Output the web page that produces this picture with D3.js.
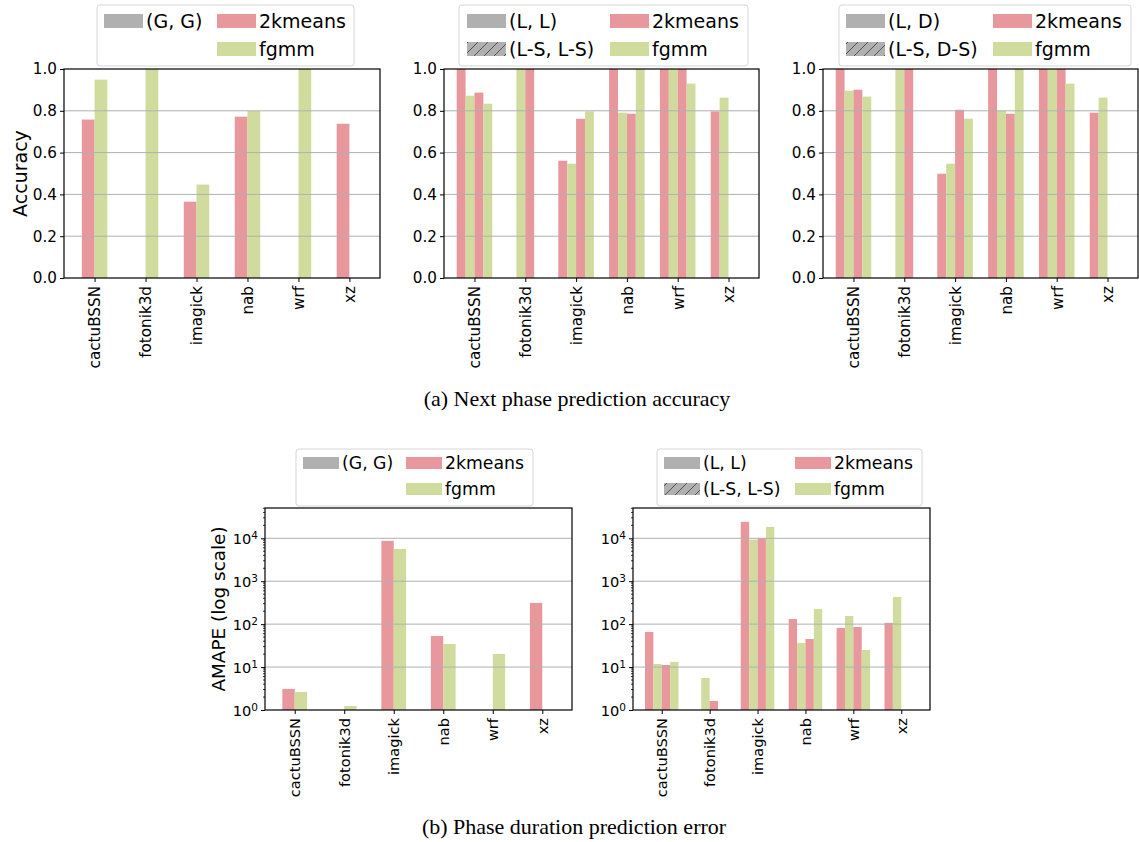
<!DOCTYPE html>
<html>
<head>
<meta charset="utf-8">
<script src="https://cdn.jsdelivr.net/npm/d3@7"></script>
<style>
  body { margin: 0; background: #fff; }
  text { font-family: "DejaVu Sans", sans-serif; fill: #000; }
  .caption { font-family: "Liberation Serif", "DejaVu Serif", serif; }
</style>
</head>
<body>
<svg id="chart" width="1139" height="842"></svg>
<script>
const benchmarks = ["cactuBSSN", "fotonik3d", "imagick", "nab", "wrf", "xz"];

// (a) next phase prediction accuracy
const accGG_2kmeans   = [0.758, 0, 0.365, 0.772, 0, 0.738];
const accGG_fgmm      = [0.949, 1.0, 0.447, 0.799, 1.0, 0];
const accLL_2kmeans   = [1.0, 0, 0.561, 1.0, 1.0, 0.797];
const accLL_fgmm      = [0.872, 1.0, 0.547, 0.791, 1.0, 0.863];
const accLSLS_2kmeans = [0.887, 1.0, 0.762, 0.786, 1.0, 0];
const accLSLS_fgmm    = [0.834, 0, 0.797, 1.0, 0.930, 0];
const accLD_2kmeans   = [1.0, 0, 0.499, 1.0, 1.0, 0.791];
const accLD_fgmm      = [0.896, 1.0, 0.547, 0.799, 1.0, 0.863];
const accLSDS_2kmeans = [0.901, 1.0, 0.805, 0.786, 1.0, 0];
const accLSDS_fgmm    = [0.868, 0, 0.762, 1.0, 0.930, 0];

// (b) phase duration prediction error (AMAPE)
const durGG_2kmeans   = [3.09, 0, 8700, 53, 0, 312];
const durGG_fgmm      = [2.63, 1.24, 5660, 34.5, 20.2, 0];
const durLL_2kmeans   = [65.8, 0, 24100, 132, 81.6, 107];
const durLL_fgmm      = [11.8, 5.57, 9340, 36.5, 155, 430];
const durLSLS_2kmeans = [11.2, 1.62, 10000, 45, 86, 0];
const durLSLS_fgmm    = [13.2, 0, 18400, 226, 25, 0];

const accTicks = [0, 0.2, 0.4, 0.6, 0.8, 1.0];
const logTicks = [1, 10, 100, 1000, 10000];

const PINK = "#e8979d", GREEN = "#d0dc9e", GRAY = "#b0b0b0";

const svg = d3.select("#chart");

const defs = svg.append("defs");
const pat = defs.append("pattern")
  .attr("id", "hatch")
  .attr("patternUnits", "userSpaceOnUse")
  .attr("width", 10).attr("height", 10);
pat.append("rect").attr("width", 10).attr("height", 10).attr("fill", GRAY);
pat.append("path")
  .attr("d", "M-2,12 L12,-2 M-2,2 L2,-2 M8,12 L12,8")
  .attr("stroke", "#555").attr("stroke-width", 1);

const panels = [
  { kind: "acc", left: 64, right: 380, top: 69, bottom: 278, ylabel: "Accuracy",
    series: [accGG_2kmeans, accGG_fgmm], tick: 15.2,
    legend: { x0: 97, x1: 354, y0: 5, y1: 66, c1: 104, c2: 217, pw: 39, ph: 14, r1: 21, r2: 49, fs: 19,
      items: [["(G, G)", GRAY, 1, 1], ["2kmeans", PINK, 2, 1], ["fgmm", GREEN, 2, 2]] } },
  { kind: "acc", left: 444, right: 759, top: 69, bottom: 278,
    series: [accLL_2kmeans, accLL_fgmm, accLSLS_2kmeans, accLSLS_fgmm], tick: 15.2,
    legend: { x0: 459, x1: 748, y0: 5, y1: 66, c1: 467, c2: 610, pw: 39, ph: 14, r1: 21, r2: 49, fs: 19,
      items: [["(L, L)", GRAY, 1, 1], ["(L-S, L-S)", "url(#hatch)", 1, 2], ["2kmeans", PINK, 2, 1], ["fgmm", GREEN, 2, 2]] } },
  { kind: "acc", left: 823, right: 1138, top: 69, bottom: 278,
    series: [accLD_2kmeans, accLD_fgmm, accLSDS_2kmeans, accLSDS_fgmm], tick: 15.2,
    legend: { x0: 839, x1: 1131, y0: 5, y1: 66, c1: 846, c2: 993, pw: 39, ph: 14, r1: 21, r2: 49, fs: 19,
      items: [["(L, D)", GRAY, 1, 1], ["(L-S, D-S)", "url(#hatch)", 1, 2], ["2kmeans", PINK, 2, 1], ["fgmm", GREEN, 2, 2]] } },
  { kind: "log", left: 265, right: 572, top: 508, bottom: 710, ylabel: "AMAPE (log scale)",
    series: [durGG_2kmeans, durGG_fgmm], tick: 14.6,
    legend: { x0: 296, x1: 533, y0: 449, y1: 506, c1: 303, c2: 406, pw: 36, ph: 12, r1: 463, r2: 489, fs: 17.3,
      items: [["(G, G)", GRAY, 1, 1], ["2kmeans", PINK, 2, 1], ["fgmm", GREEN, 2, 2]] } },
  { kind: "log", left: 633, right: 930, top: 508, bottom: 710,
    series: [durLL_2kmeans, durLL_fgmm, durLSLS_2kmeans, durLSLS_fgmm], tick: 14.6,
    legend: { x0: 657, x1: 922, y0: 449, y1: 506, c1: 664, c2: 795, pw: 36, ph: 12, r1: 463, r2: 489, fs: 17.3,
      items: [["(L, L)", GRAY, 1, 1], ["(L-S, L-S)", "url(#hatch)", 1, 2], ["2kmeans", PINK, 2, 1], ["fgmm", GREEN, 2, 2]] } }
];

const seriesColors = [PINK, GREEN, PINK, GREEN];

panels.forEach(p => {
  const g = svg.append("g");
  const x = d3.scaleLinear().domain([-0.6, benchmarks.length - 1 + 0.6]).range([p.left, p.right]);
  const y = p.kind === "acc"
    ? d3.scaleLinear().domain([0, 1]).range([p.bottom, p.top])
    : d3.scaleLog().domain([1, Math.pow(10, 4.705)]).range([p.bottom, p.top]);

  const n = p.series.length;
  const w = n === 2 ? 0.25 : 0.175;

  // bars
  p.series.forEach((vals, si) => {
    const off = (si - (n - 1) / 2) * w;
    g.append("g").selectAll("rect")
      .data(vals.map((v, i) => ({ v, i })).filter(d => d.v > 0))
      .enter().append("rect")
      .attr("x", d => x(d.i + off - w / 2))
      .attr("width", x(w) - x(0))
      .attr("y", d => y(Math.min(d.v, y.domain()[1])))
      .attr("height", d => y(p.kind === "acc" ? 0 : 1) - y(d.v))
      .attr("fill", seriesColors[si]);
  });

  // grid
  const gridVals = p.kind === "acc" ? accTicks.slice(1, -1) : logTicks.slice(1);
  g.append("g").selectAll("line").data(gridVals).enter().append("line")
    .attr("x1", p.left).attr("x2", p.right)
    .attr("y1", d => y(d)).attr("y2", d => y(d))
    .attr("stroke", GRAY).attr("stroke-width", 1);

  // y axis
  if (p.kind === "acc") {
    const ax = g.append("g").attr("transform", `translate(${p.left},0)`)
      .call(d3.axisLeft(y).tickValues(accTicks).tickFormat(d3.format(".1f")).tickSize(4).tickPadding(3));
    ax.select(".domain").remove();
    ax.selectAll("text").style("font-size", p.tick + "px").style("font-family", "DejaVu Sans");
  } else {
    const minor = [];
    for (let e = 0; e < 5; e++) for (let m = 2; m <= 9; m++) {
      const v = m * Math.pow(10, e);
      if (v <= y.domain()[1]) minor.push(v);
    }
    g.append("g").selectAll("line").data(minor).enter().append("line")
      .attr("x1", p.left - 2).attr("x2", p.left)
      .attr("y1", d => y(d)).attr("y2", d => y(d))
      .attr("stroke", "#000").attr("stroke-width", 0.8);
    const ax = g.append("g").attr("transform", `translate(${p.left},0)`)
      .call(d3.axisLeft(y).tickValues(logTicks).tickFormat("").tickSize(4));
    ax.select(".domain").remove();
    ax.selectAll(".tick").each(function (d) {
      const t = d3.select(this).append("text")
        .attr("x", -7).attr("dy", "0.35em")
        .attr("text-anchor", "end")
        .style("font-size", p.tick + "px");
      t.append("tspan").text("10");
      t.append("tspan").attr("dy", "-0.45em").style("font-size", "10.5px").text(Math.round(Math.log10(d)));
    });
  }

  // x axis
  const xa = g.append("g").attr("transform", `translate(0,${p.bottom})`)
    .call(d3.axisBottom(x).tickValues(d3.range(benchmarks.length)).tickFormat(i => benchmarks[i]).tickSize(4));
  xa.select(".domain").remove();
  xa.selectAll("text")
    .style("font-size", p.tick + "px").style("font-family", "DejaVu Sans")
    .attr("text-anchor", "end")
    .attr("transform", "rotate(-90)")
    .attr("x", -8).attr("y", 0).attr("dy", "0.35em");

  // frame
  g.append("rect")
    .attr("x", p.left).attr("y", p.top)
    .attr("width", p.right - p.left).attr("height", p.bottom - p.top)
    .attr("fill", "none").attr("stroke", "#000").attr("stroke-width", 1.2);

  // y label
  if (p.ylabel) {
    const lx = p.kind === "acc" ? 20 : 219;
    g.append("text")
      .attr("transform", `translate(${lx},${(p.top + p.bottom) / 2}) rotate(-90)`)
      .attr("text-anchor", "middle").attr("dy", "0.35em")
      .style("font-size", p.kind === "acc" ? "19px" : "18.4px")
      .text(p.ylabel);
  }

  // legend
  const L = p.legend;
  const lg = g.append("g");
  lg.append("rect")
    .attr("x", L.x0).attr("y", L.y0)
    .attr("width", L.x1 - L.x0).attr("height", L.y1 - L.y0)
    .attr("rx", 3).attr("fill", "#fff").attr("stroke", "#d6d6d6");
  L.items.forEach(([label, fill, col, row]) => {
    const px = col === 1 ? L.c1 : L.c2;
    const cy = row === 1 ? L.r1 : L.r2;
    lg.append("rect").attr("x", px).attr("y", cy - L.ph / 2)
      .attr("width", L.pw).attr("height", L.ph).attr("fill", fill);
    lg.append("text").attr("x", px + L.pw + 3).attr("y", cy).attr("dy", "0.36em")
      .style("font-size", L.fs + "px").text(label);
  });
});

svg.append("text").attr("class", "caption")
  .attr("x", 577).attr("y", 406).attr("text-anchor", "middle")
  .style("font-size", "22px").text("(a) Next phase prediction accuracy");
svg.append("text").attr("class", "caption")
  .attr("x", 574).attr("y", 834).attr("text-anchor", "middle")
  .style("font-size", "22px").text("(b) Phase duration prediction error");
</script>
</body>
</html>
